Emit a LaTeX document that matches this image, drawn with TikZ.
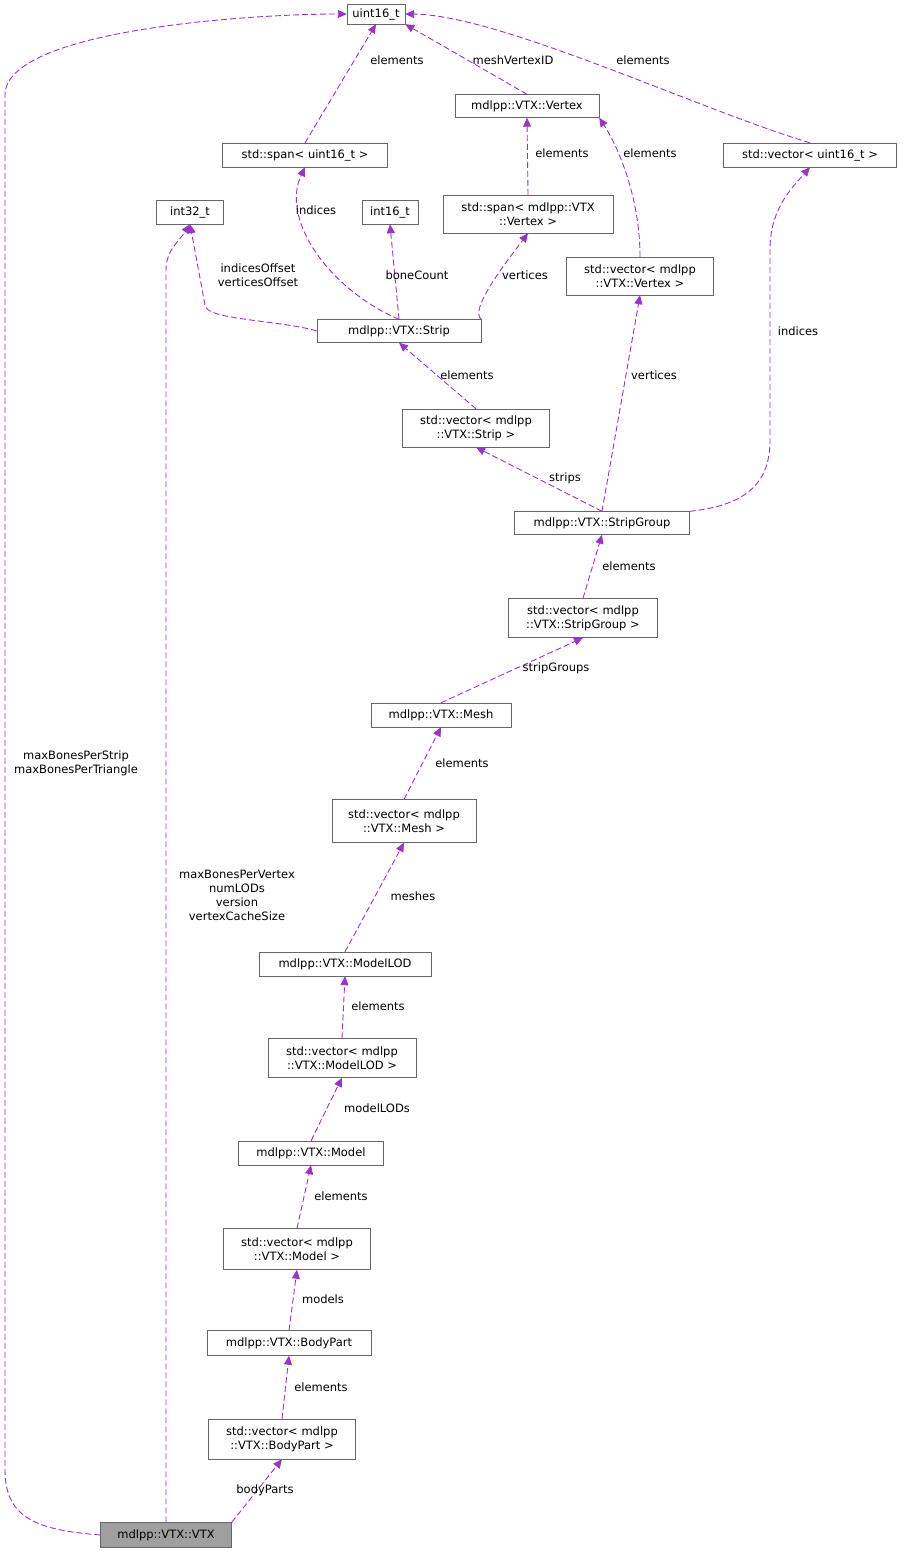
\documentclass[tikz,border=0pt]{standalone}
\usepackage{fontspec}
\setmainfont{DejaVu Sans}
\usetikzlibrary{arrows.meta}
\definecolor{edge}{HTML}{9A32CD}
\definecolor{bx}{HTML}{666666}
\tikzset{
 box/.style={draw=bx,fill=white,inner sep=2pt,font=\fontsize{11.5}{14}\selectfont,align=center,text=black},
 dep/.style={draw=edge,dashed,dash pattern=on 6pt off 3pt,line width=0.9pt,-{Triangle[length=9pt,width=8pt,fill=edge]}},
 lbl/.style={font=\fontsize{11.5}{14}\selectfont,align=center,inner sep=0pt}
}
\begin{document}
\begin{tikzpicture}[x=1pt,y=-1pt]
\useasboundingbox (0,0) rectangle (903,1553);
\node[box,minimum width=58pt,minimum height=20pt] (u16) at (376,14) {uint16\_t};
\node[box,minimum width=144pt,minimum height=23pt] (vert) at (527,106) {mdlpp::VTX::Vertex};
\node[box,minimum width=173pt,minimum height=24pt] (vu16) at (810,155) {std::vector\textless{} uint16\_t \textgreater};
\node[box,minimum width=165pt,minimum height=24pt] (su16) at (305,155) {std::span\textless{} uint16\_t \textgreater};
\node[box,minimum width=67pt,minimum height=24pt] (i32) at (190,212) {int32\_t};
\node[box,minimum width=56pt,minimum height=24pt] (i16) at (390,212) {int16\_t};
\node[box,minimum width=170pt,minimum height=38pt] (sv) at (528,214) {std::span\textless{} mdlpp::VTX\\::Vertex \textgreater};
\node[box,minimum width=147pt,minimum height=38pt] (vv) at (640,276) {std::vector\textless{} mdlpp\\::VTX::Vertex \textgreater};
\node[box,minimum width=164pt,minimum height=23pt] (strip) at (399,331) {mdlpp::VTX::Strip};
\node[box,minimum width=147pt,minimum height=38pt] (vstrip) at (476,428) {std::vector\textless{} mdlpp\\::VTX::Strip \textgreater};
\node[box,minimum width=175pt,minimum height=23pt] (sg) at (602,523) {mdlpp::VTX::StripGroup};
\node[box,minimum width=149pt,minimum height=39pt] (vsg) at (583,618) {std::vector\textless{} mdlpp\\::VTX::StripGroup \textgreater};
\node[box,minimum width=140pt,minimum height=24pt] (mesh) at (441,715) {mdlpp::VTX::Mesh};
\node[box,minimum width=144pt,minimum height=43pt] (vmesh) at (404,821) {std::vector\textless{} mdlpp\\::VTX::Mesh \textgreater};
\node[box,minimum width=172pt,minimum height=24pt] (lod) at (345,964) {mdlpp::VTX::ModelLOD};
\node[box,minimum width=148pt,minimum height=39pt] (vlod) at (342,1058) {std::vector\textless{} mdlpp\\::VTX::ModelLOD \textgreater};
\node[box,minimum width=145pt,minimum height=24pt] (model) at (311,1153) {mdlpp::VTX::Model};
\node[box,minimum width=147pt,minimum height=41pt] (vmodel) at (297,1249) {std::vector\textless{} mdlpp\\::VTX::Model \textgreater};
\node[box,minimum width=164pt,minimum height=25pt] (bp) at (289,1343) {mdlpp::VTX::BodyPart};
\node[box,minimum width=147pt,minimum height=40pt] (vbp) at (282,1439) {std::vector\textless{} mdlpp\\::VTX::BodyPart \textgreater};
\node[box,fill=gray!75,minimum width=131pt,minimum height=25pt] (vtx) at (166,1535) {mdlpp::VTX::VTX};

\coordinate (l1) at (5,1470);
\coordinate (l2) at (5,95);
\coordinate (c1) at (166,270);
\coordinate (c2) at (205,305);
\coordinate (c3) at (770,440);

\draw[dep] (su16.north) -- (u16.south);
\draw[dep] (vert.north) -- (u16.south east);
\draw[dep] (vu16.north) .. controls (700,110) and (500,15) .. (u16.east);
\draw[dep] (sv.north) -- (vert.south);
\draw[dep] (vv.north) .. controls (640,200) and (620,150) .. (vert.south east);
\draw[dep] (strip.north) .. controls (330,290) and (280,220) .. (su16.south);
\draw[dep] (strip.west) .. controls (280,320) and (205,320) .. (c2) -- (i32.south);
\draw[dep] (strip.north) -- (i16.south);
\draw[dep] (strip.north east) .. controls (470,310) and (500,270) .. (sv.south);
\draw[dep] (vstrip.north) -- (strip.south);
\draw[dep] (sg.north) -- (vstrip.south);
\draw[dep] (sg.north) -- (vv.south);
\draw[dep] (sg.north east) .. controls (750,505) and (770,480) .. (c3) -- (770,250) .. controls (770,210) and (790,190) .. (vu16.south);
\draw[dep] (vsg.north) -- (sg.south);
\draw[dep] (mesh.north) -- (vsg.south);
\draw[dep] (vmesh.north) -- (mesh.south);
\draw[dep] (lod.north) -- (vmesh.south);
\draw[dep] (vlod.north) -- (lod.south);
\draw[dep] (model.north) -- (vlod.south);
\draw[dep] (vmodel.north) -- (model.south);
\draw[dep] (bp.north) -- (vmodel.south);
\draw[dep] (vbp.north) -- (bp.south);
\draw[dep] (vtx.north east) -- (vbp.south);
\draw[dep] (vtx.north) -- (c1) .. controls (166,250) and (180,240) .. (i32.south);
\draw[dep] (vtx.west) .. controls (40,1530) and (5,1520) .. (l1) -- (l2) .. controls (5,30) and (250,14) .. (u16.west);

\node[lbl] (t1) at (397,60) {elements};
\node[lbl] (t2) at (513,60) {meshVertexID};
\node[lbl] (t3) at (643,60) {elements};
\node[lbl] (t4) at (562,153) {elements};
\node[lbl] (t5) at (650,153) {elements};
\node[lbl] (t6) at (316,210) {indices};
\node[lbl] (t7) at (258,275) {indicesOffset\\verticesOffset};
\node[lbl] (t8) at (417,275) {boneCount};
\node[lbl] (t9) at (525,275) {vertices};
\node[lbl] (t10) at (467,375) {elements};
\node[lbl] (t11) at (565,478) {strips};
\node[lbl] (t12) at (654,375) {vertices};
\node[lbl] (t13) at (798,331) {indices};
\node[lbl] (t14) at (629,566) {elements};
\node[lbl] (t15) at (556,668) {stripGroups};
\node[lbl] (t16) at (462,763) {elements};
\node[lbl] (t17) at (413,896) {meshes};
\node[lbl] (t18) at (378,1006) {elements};
\node[lbl] (t19) at (377,1108) {modelLODs};
\node[lbl] (t20) at (341,1196) {elements};
\node[lbl] (t21) at (323,1299) {models};
\node[lbl] (t22) at (321,1387) {elements};
\node[lbl] (t23) at (265,1490) {bodyParts};
\node[lbl] (t24) at (237,895) {maxBonesPerVertex\\numLODs\\version\\vertexCacheSize};
\node[lbl] (t25) at (76,763) {maxBonesPerStrip\\maxBonesPerTriangle};
\end{tikzpicture}
\end{document}
